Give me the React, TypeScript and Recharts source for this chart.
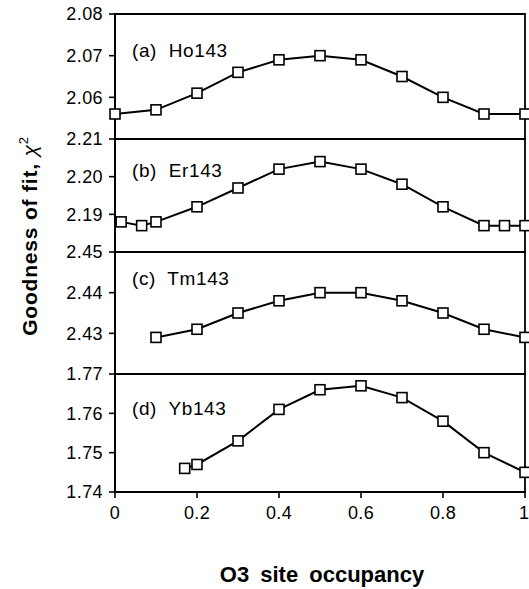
import { LineChart, Line, XAxis, YAxis, ReferenceArea } from 'recharts';

const occA = [0, 0.1, 0.2, 0.3, 0.4, 0.5, 0.6, 0.7, 0.8, 0.9, 1.0];
const ho143 = [2.056, 2.057, 2.061, 2.066, 2.069, 2.070, 2.069, 2.065, 2.060, 2.056, 2.056];

const occB = [0.015, 0.065, 0.1, 0.2, 0.3, 0.4, 0.5, 0.6, 0.7, 0.8, 0.9, 0.95, 1.0];
const er143 = [2.188, 2.187, 2.188, 2.192, 2.197, 2.202, 2.204, 2.202, 2.198, 2.192, 2.187, 2.187, 2.187];

const occC = [0.1, 0.2, 0.3, 0.4, 0.5, 0.6, 0.7, 0.8, 0.9, 1.0];
const tm143 = [2.429, 2.431, 2.435, 2.438, 2.440, 2.440, 2.438, 2.435, 2.431, 2.429];

const occD = [0.17, 0.2, 0.3, 0.4, 0.5, 0.6, 0.7, 0.8, 0.9, 1.0];
const yb143 = [1.746, 1.747, 1.753, 1.761, 1.766, 1.767, 1.764, 1.758, 1.750, 1.745];

const xTicks = [0, 0.2, 0.4, 0.6, 0.8, 1];

const W = 529;
const H = 589;
const FONT = '"Liberation Sans", Arial, sans-serif';

interface Panel {
  label: string;
  xs: number[];
  ys: number[];
  domain: [number, number];
  ticks: number[];
  top: number;
  bottom: number;
  labelTop: number;
}

const panels: Panel[] = [
  { label: '(a)  Ho143', xs: occA, ys: ho143, domain: [2.05, 2.08], ticks: [2.06, 2.07, 2.08], top: 14, bottom: 139, labelTop: 41 },
  { label: '(b)  Er143', xs: occB, ys: er143, domain: [2.18, 2.21], ticks: [2.19, 2.2, 2.21], top: 139, bottom: 252, labelTop: 161 },
  { label: '(c)  Tm143', xs: occC, ys: tm143, domain: [2.42, 2.45], ticks: [2.43, 2.44, 2.45], top: 252, bottom: 374, labelTop: 269 },
  { label: '(d)  Yb143', xs: occD, ys: yb143, domain: [1.74, 1.77], ticks: [1.74, 1.75, 1.76, 1.77], top: 374, bottom: 492, labelTop: 399 },
];

const Square = (p: any) => {
  if (p.cx == null || p.cy == null) return <g key={p.index} />;
  return (
    <rect key={p.index} x={p.cx - 5} y={p.cy - 5} width={10} height={10} fill="#fff" stroke="#000" strokeWidth={1.6} />
  );
};

const tickStyle = { fontSize: 18, fill: '#000', fontFamily: FONT, letterSpacing: 0.4 };

function PanelChart({ p, last }: { p: Panel; last: boolean }) {
  const data = p.xs.map((x, i) => ({ x, y: p.ys[i] }));
  const xAxisH = 30;
  return (
    <div style={{ position: 'absolute', left: 0, top: 0 }}>
      <LineChart
        width={W}
        height={H}
        data={data}
        margin={{ top: p.top, bottom: H - p.bottom - (last ? xAxisH : 0), left: 0, right: 4 }}
      >
        <XAxis
          type="number"
          dataKey="x"
          domain={[0, 1]}
          ticks={xTicks}
          hide={!last}
          height={xAxisH}
          tickSize={6}
          tickMargin={8}
          tickFormatter={(v: number) => String(v)}
          tick={tickStyle}
          axisLine={{ stroke: '#000', strokeWidth: 1.8 }}
          tickLine={{ stroke: '#000', strokeWidth: 1.6 }}
        />
        <YAxis
          type="number"
          domain={p.domain}
          allowDataOverflow
          ticks={p.ticks}
          width={115}
          tickSize={6}
          tickMargin={6}
          tickFormatter={(v: number) => v.toFixed(2)}
          tick={tickStyle}
          axisLine={{ stroke: '#000', strokeWidth: 1.8 }}
          tickLine={{ stroke: '#000', strokeWidth: 1.6 }}
        />
        <ReferenceArea x1={0} x2={1} y1={p.domain[0]} y2={p.domain[1]} fill="none" stroke="#000" strokeWidth={1.8} />
        <Line
          type="linear"
          dataKey="y"
          stroke="#000"
          strokeWidth={2}
          dot={Square}
          activeDot={false}
          isAnimationActive={false}
        />
      </LineChart>
    </div>
  );
}

export default function App() {
  return (
    <div style={{ position: 'absolute', left: 0, top: 0, width: W, height: H, background: '#fff', fontFamily: FONT }}>
      {panels.map((p, i) => (
        <PanelChart key={p.label} p={p} last={i === panels.length - 1} />
      ))}
      {panels.map((p) => (
        <div
          key={p.label + '-t'}
          style={{ position: 'absolute', left: 132, top: p.labelTop, fontSize: 19, whiteSpace: 'pre', lineHeight: '20px', letterSpacing: 0.6 }}
        >
          {p.label}
        </div>
      ))}
      <div
        style={{ position: 'absolute', left: 322, top: 562, transform: 'translateX(-50%)', whiteSpace: 'nowrap', fontSize: 22, fontWeight: 'bold', wordSpacing: 5, lineHeight: '26px' }}
      >
        O3 site occupancy
      </div>
      <svg width={60} height={H} style={{ position: 'absolute', left: 0, top: 0 }}>
        <text
          x={0}
          y={0}
          transform="translate(37, 236) rotate(-90)"
          textAnchor="middle"
          fontSize={21}
          fontWeight="bold"
          fontFamily={FONT}
          letterSpacing={0.8}
          fill="#000"
        >
          Goodness of fit,{' '}
          <tspan fontWeight="normal" fontStyle="italic">χ</tspan>
          <tspan fontWeight="normal" fontSize={13} dy={-9}>2</tspan>
        </text>
      </svg>
    </div>
  );
}
